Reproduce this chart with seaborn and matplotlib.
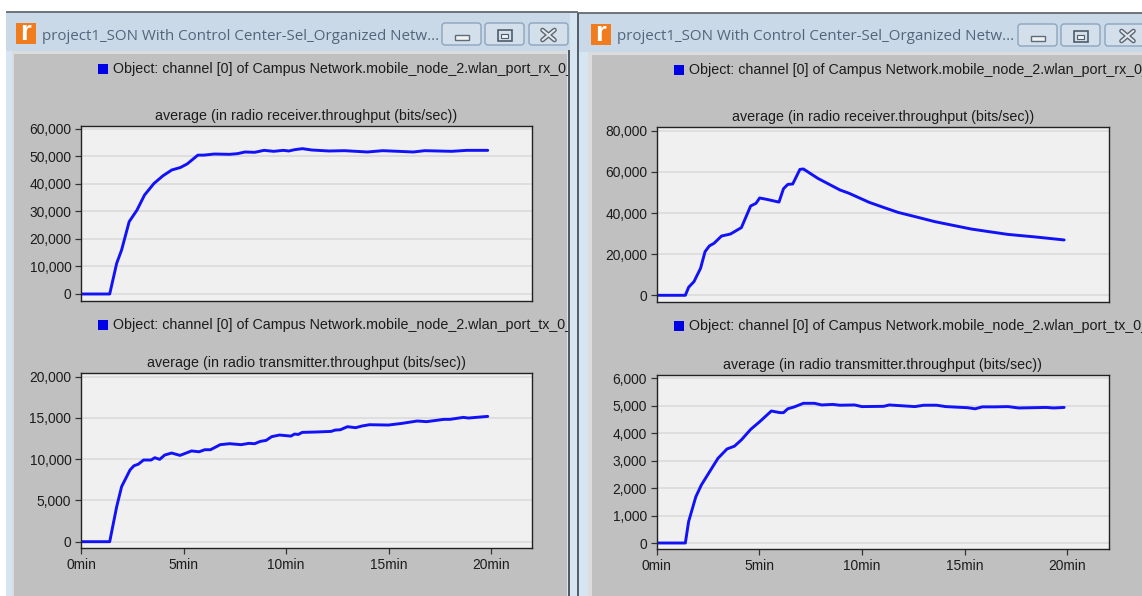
import pandas as pd
import seaborn as sns
import matplotlib.pyplot as plt
from matplotlib.patches import Rectangle, FancyBboxPatch

W, H = 1142, 596

window_title = "project1_SON With Control Center-Sel_Organized Netw..."
rx_label = "Object: channel [0] of Campus Network.mobile_node_2.wlan_port_rx_0_"
tx_label = "Object: channel [0] of Campus Network.mobile_node_2.wlan_port_tx_0_"
rx_title = "average (in radio receiver.throughput (bits/sec))"
tx_title = "average (in radio transmitter.throughput (bits/sec))"

time_labels = ["0min", "5min", "10min", "15min", "20min"]
time_ticks = [0, 5, 10, 15, 20]

# left window, receiver
rx1_t = [0, 1.4, 1.74, 1.98, 2.35, 2.73, 3.1, 3.56, 4.0, 4.43, 4.85, 5.18, 5.7, 6.0, 6.5, 7.25, 7.63,
         8.0, 8.47, 8.93, 9.4, 9.87, 10.14, 10.42, 10.8, 11.26, 12.1, 12.85, 13.97, 14.72, 15.47, 16.21,
         16.77, 18.08, 18.83, 19.84]
rx1_v = [0, 0, 11150, 16000, 26300, 30500, 36000, 40200, 43000, 45100, 46000, 47300, 50500, 50500,
         50900, 50790, 51030, 51640, 51520, 52240, 51880, 52240, 52000, 52480, 52850, 52360, 52000,
         52120, 51640, 52120, 51880, 51640, 52120, 51880, 52240, 52240]

# left window, transmitter
tx1_t = [0, 1.4, 1.74, 1.98, 2.39, 2.58, 2.8, 3.05, 3.42, 3.6, 3.84, 4.08, 4.42, 4.83, 5.39, 5.76, 6.04,
         6.32, 6.79, 7.25, 7.81, 8.19, 8.47, 8.75, 9.03, 9.3, 9.68, 10.24, 10.42, 10.6, 10.79, 11.5,
         12.2, 12.4, 12.65, 13.0, 13.4, 13.7, 14.07, 15.0, 15.65, 16.4, 16.86, 17.7, 18.0, 18.65, 18.9, 19.84]
tx1_v = [0, 0, 4240, 6670, 8690, 9200, 9400, 9900, 9900, 10180, 9980, 10500, 10750, 10460, 11000, 10900,
         11150, 11150, 11760, 11880, 11760, 11920, 11880, 12160, 12280, 12730, 12930, 12800, 13050, 13000,
         13250, 13300, 13370, 13530, 13570, 13940, 13820, 14020, 14180, 14140, 14340, 14630, 14550, 14830,
         14830, 15070, 14990, 15190]

# right window, receiver
rx2_t = [0, 1.39, 1.55, 1.81, 2.13, 2.35, 2.56, 2.79, 3.15, 3.59, 4.12, 4.57, 4.83, 5.01, 5.37, 5.95,
         6.17, 6.38, 6.62, 6.97, 7.14, 7.85, 8.92, 9.36, 10.34, 11.05, 11.75, 12.65, 13.54, 14.43, 15.32,
         16.2, 17.1, 18.5, 19.84]
rx2_v = [0, 0, 3900, 6640, 13100, 21200, 24000, 25300, 28800, 29800, 32900, 43400, 44700, 47300, 46600,
         45300, 51800, 53900, 54100, 61200, 61400, 56800, 51200, 49600, 45200, 42700, 40300, 38060, 35800,
         34000, 32200, 30900, 29600, 28300, 26900]

# right window, transmitter
tx2_t = [0, 1.39, 1.55, 1.9, 2.17, 2.62, 2.98, 3.42, 3.78, 4.12, 4.57, 5.01, 5.58, 6.0, 6.17, 6.38, 6.7,
         7.14, 7.68, 8.03, 8.57, 8.92, 9.63, 9.99, 11.05, 11.32, 12.57, 13.0, 13.63, 14.07, 15.14, 15.5,
         15.85, 16.47, 17.1, 17.63, 18.97, 19.33, 19.84]
tx2_v = [0, 0, 780, 1680, 2110, 2650, 3080, 3420, 3520, 3750, 4130, 4410, 4800, 4740, 4740, 4880, 4950,
         5080, 5080, 5020, 5040, 5010, 5020, 4960, 4970, 5020, 4960, 5010, 5010, 4960, 4920, 4880, 4950,
         4950, 4960, 4910, 4930, 4910, 4930]

GRAY = "#c0c0c0"
FRAME = "#d7e5f3"
BAR = "#c9d9e8"
BLUE = "#1212f8"
TEXT = "#1c1c1c"

sns.set_theme(style="white")
plt.rcParams["font.family"] = ["Liberation Sans", "DejaVu Sans"]

fig = plt.figure(figsize=(W / 100, H / 100), dpi=100, facecolor="white")

# everything around the plots is drawn in pixel coordinates on one big axes
bg = fig.add_axes([0, 0, 1, 1], zorder=0)
bg.set_xlim(0, W)
bg.set_ylim(H, 0)
bg.axis("off")


def box(x0, y0, x1, y1, color, z=1, **kw):
    bg.add_patch(Rectangle((x0, y0), x1 - x0, y1 - y0, facecolor=color, edgecolor="none", zorder=z, **kw))


def button(x0, y0, x1, y1):
    bg.add_patch(FancyBboxPatch((x0, y0), x1 - x0, y1 - y0, boxstyle="round,pad=0,rounding_size=3",
                                facecolor="#d3e0ec", edgecolor="#8ea5bd", linewidth=1.0, zorder=2))


def window(left, top, right, inner_left, inner_right, title_x, icon_x, title_y, btns):
    box(left, top, right, H, FRAME)
    box(left, top, right, top + 39, BAR)
    bg.plot([left, right], [top, top], color="#5a5f66", lw=1.2, zorder=3, solid_capstyle="butt")
    box(inner_left - 2, top + 39, inner_right, H, "#dcdcdc", z=1.5)
    box(inner_left, top + 42, inner_right, H, GRAY, z=1.6)
    # orange program icon
    box(icon_x, title_y - 12, icon_x + 20, title_y + 9, "#f07c1e", z=2)
    bg.text(icon_x + 9.5, title_y - 2, "r", color="white", fontsize=20, fontweight="bold", ha="center",
            va="center", zorder=3, family=["Liberation Sans"])
    bg.text(title_x, title_y + 1, window_title, color="#53657c", fontsize=10.9, va="center", zorder=3,
            family=["Open Sans"])
    for (x0, x1), kind in zip(btns, ["min", "max", "close"]):
        button(x0, title_y - 12, x1, title_y + 10)
        cx = (x0 + x1) / 2
        if kind == "min":
            bg.add_patch(Rectangle((cx - 7, title_y), 14, 5, facecolor="#f2f2f2", edgecolor="#5d6a78",
                                   lw=1, zorder=3))
        elif kind == "max":
            bg.add_patch(Rectangle((cx - 7, title_y - 5), 14, 11, facecolor="#d5dfe8", edgecolor="#4e5c6c",
                                   lw=1.2, zorder=3))
            bg.add_patch(Rectangle((cx - 3.5, title_y - 1.5), 7, 4, facecolor="#eef3f7", edgecolor="#4e5c6c",
                                   lw=0.8, zorder=3))
        else:
            for ya, yb in [(title_y - 5, title_y + 5), (title_y + 5, title_y - 5)]:
                bg.plot([cx - 6, cx + 6], [ya, yb], color="#5d6670", lw=3.4, zorder=3)
            for ya, yb in [(title_y - 5, title_y + 5), (title_y + 5, title_y - 5)]:
                bg.plot([cx - 6, cx + 6], [ya, yb], color="#e4e9ee", lw=1.4, zorder=3)


window(6, 12, 578, 14, 567, 42, 16, 35, [(442, 481), (485, 524), (529, 568)])
window(578, 13, 1150, 592, 1150, 617, 591, 36, [(1018, 1057), (1061, 1100), (1105, 1150)])

# legend lines, their tails run under the window edge
for x, y, label in [(98, 69, rx_label), (98, 325, tx_label), (674, 70, rx_label), (674, 326, tx_label)]:
    box(x, y - 5, x + 10, y + 5, "#0000e6", z=2)
    bg.text(x + 15, y, label, color=TEXT, fontsize=10.3, va="center", zorder=2)

box(567.5, 50, 569.5, H, "#55585c", z=3)
box(569.5, 12.6, 577, H, FRAME, z=3)
box(577, 12.6, 578.5, H, "#55606a", z=3)
box(578.5, 13.6, 592, 52, BAR, z=1.2)
box(578.5, 52, 588, H, FRAME, z=3)
box(588, 52, 592, H, "#dcdcdc", z=3)


def panel(x0, y0, x1, y1, t, v, ylim, yticks, title, show_x):
    ax = fig.add_axes([x0 / W, 1 - y1 / H, (x1 - x0) / W, (y1 - y0) / H], zorder=2)
    ax.set_facecolor("#f0f0f0")
    df = pd.DataFrame({"minutes": t, "bits": v})
    sns.lineplot(data=df, x="minutes", y="bits", color=BLUE, linewidth=2.1, estimator=None, errorbar=None,
                 ax=ax)
    ax.set_xlim(0, 22)
    ax.set_ylim(*ylim)
    ax.set_yticks(yticks)
    ax.set_yticklabels([f"{n:,}" for n in yticks], fontsize=9.9, color=TEXT)
    ax.grid(axis="y", color="#d9d9d9", linewidth=1.1)
    ax.set_axisbelow(True)
    ax.set_xlabel("")
    ax.set_ylabel("")
    ax.tick_params(axis="y", left=True, length=4, width=0.9, color="#333333", pad=3)
    if show_x:
        ax.set_xticks(time_ticks)
        ax.set_xticklabels(time_labels, fontsize=9.9, color=TEXT)
        ax.tick_params(axis="x", bottom=True, length=4, width=0.9, color="#333333", pad=3)
    else:
        ax.set_xticks([])
    for s in ax.spines.values():
        s.set_visible(True)
        s.set_color("#222222")
        s.set_linewidth(1.0)
    ax.set_title(title, fontsize=10.3, color=TEXT, pad=4)
    return ax


panel(81, 126, 532, 300.5, rx1_t, rx1_v, (-2364, 61090), [0, 10000, 20000, 30000, 40000, 50000, 60000], rx_title, False)
panel(81, 372.7, 532, 548, tx1_t, tx1_v, (-764, 20485), [0, 5000, 10000, 15000, 20000], tx_title, True)
panel(656.8, 127, 1108.5, 302, rx2_t, rx2_v, (-3256, 81800), [0, 20000, 40000, 60000, 80000], rx_title, False)
panel(656.8, 374.7, 1108.5, 549.3, tx2_t, tx2_v, (-229, 6120), [0, 1000, 2000, 3000, 4000, 5000, 6000], tx_title, True)

fig.savefig("out.png", dpi=100, facecolor="white")
